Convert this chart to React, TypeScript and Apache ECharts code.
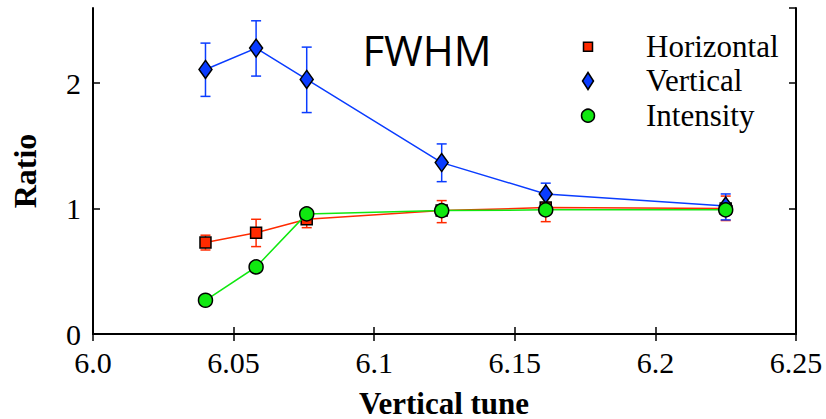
import React, { useEffect, useRef } from "react";
import * as echarts from "echarts";

const tunes = [6.04, 6.058, 6.076, 6.124, 6.161, 6.225];
const horizontal = [0.729, 0.808, 0.915, 0.984, 1.008, 1.0];
const horizontalLow = [0.67, 0.697, 0.848, 0.888, 0.896, 0.905];
const horizontalHigh = [0.788, 0.915, 0.98, 1.064, 1.12, 1.1];
const vertical = [2.11, 2.28, 2.03, 1.367, 1.117, 1.02];
const verticalLow = [1.895, 2.057, 1.766, 1.215, 1.03, 0.91];
const verticalHigh = [2.32, 2.498, 2.288, 1.516, 1.203, 1.117];
const intensity = [0.269, 0.535, 0.958, 0.984, 0.99, 0.99];
const seriesNames = ["Horizontal", "Vertical", "Intensity"];
const xTicks = { min: 6.0, max: 6.25, interval: 0.05 };
const yTicks = { min: 0, max: 2.6, interval: 1 };

const RED = "#ff2a00";
const BLUE = "#0a3cff";
const GREEN = "#10e810";
const SERIF = "Liberation Serif";

function errBars(color: string, low: number[], high: number[]) {
  return {
    type: "custom",
    z: 1,
    data: tunes.map((t, i) => [t, low[i], high[i]]),
    encode: { x: 0, y: [1, 2] },
    renderItem: (_p: any, api: any) => {
      const x = api.value(0);
      const a = api.coord([x, api.value(1)]);
      const b = api.coord([x, api.value(2)]);
      const hw = 5;
      const style = { stroke: color, lineWidth: 1.5 };
      return {
        type: "group",
        children: [
          { type: "line", shape: { x1: a[0], y1: a[1], x2: b[0], y2: b[1] }, style },
          { type: "line", shape: { x1: a[0] - hw, y1: a[1], x2: a[0] + hw, y2: a[1] }, style },
          { type: "line", shape: { x1: b[0] - hw, y1: b[1], x2: b[0] + hw, y2: b[1] }, style },
        ],
      };
    },
  };
}

export default function App() {
  const ref = useRef<HTMLDivElement>(null);
  useEffect(() => {
    if (!ref.current) return;
    const chart = echarts.init(ref.current, null, { renderer: "svg" });
    const axisLine = { show: true, lineStyle: { color: "#000", width: 2 } };
    const axisTick = { show: true, inside: true, length: 7, lineStyle: { color: "#000", width: 1.5 } };
    const legendY = [46.7, 81, 115.7];
    const markerStroke = { stroke: "#000", lineWidth: 1.5 };
    chart.setOption({
      animation: false,
      grid: { left: 93, right: 30, top: 8, bottom: 85 },
      xAxis: [
        {
          type: "value",
          ...xTicks,
          axisLine,
          axisTick,
          splitLine: { show: false },
          axisLabel: {
            color: "#000",
            fontFamily: SERIF,
            fontSize: 30,
            margin: 13,
            formatter: (v: number) => (v === 6 ? "6.0" : String(Math.round(v * 100) / 100)),
          },
        },
        {
          type: "value",
          position: "top",
          ...xTicks,
          axisLine,
          axisTick,
          splitLine: { show: false },
          axisLabel: { show: false },
        },
      ],
      yAxis: [
        {
          type: "value",
          ...yTicks,
          axisLine,
          axisTick,
          splitLine: { show: false },
          axisLabel: { color: "#000", fontFamily: SERIF, fontSize: 30, margin: 12, showMaxLabel: false },
        },
        {
          type: "value",
          position: "right",
          ...yTicks,
          axisLine,
          axisTick,
          splitLine: { show: false },
          axisLabel: { show: false },
        },
      ],
      series: [
        errBars(RED, horizontalLow, horizontalHigh),
        errBars(BLUE, verticalLow, verticalHigh),
        {
          name: seriesNames[0],
          type: "line",
          z: 2,
          data: tunes.map((t, i) => [t, horizontal[i]]),
          symbol: "rect",
          symbolSize: 11,
          lineStyle: { color: RED, width: 1.5 },
          itemStyle: { color: RED, borderColor: "#000", borderWidth: 1.5 },
        },
        {
          name: seriesNames[1],
          type: "line",
          z: 3,
          data: tunes.map((t, i) => [t, vertical[i]]),
          symbol: "diamond",
          symbolSize: [13, 18],
          lineStyle: { color: BLUE, width: 1.5 },
          itemStyle: { color: BLUE, borderColor: "#000", borderWidth: 1.5 },
        },
        {
          name: seriesNames[2],
          type: "line",
          z: 4,
          data: tunes.map((t, i) => [t, intensity[i]]),
          symbol: "circle",
          symbolSize: 14,
          lineStyle: { color: GREEN, width: 1.5 },
          itemStyle: { color: GREEN, borderColor: "#000", borderWidth: 1.5 },
        },
      ],
      graphic: [
        ...seriesNames.map((n, i) => ({
          type: "text",
          x: 646,
          y: legendY[i] - 16,
          style: { text: n, fontFamily: SERIF, fontSize: 31, fill: "#000" },
        })),
        {
          type: "rect",
          shape: { x: 583.5, y: legendY[0] - 4.5, width: 9, height: 9 },
          style: { fill: RED, ...markerStroke },
        },
        {
          type: "polygon",
          shape: {
            points: [
              [588, legendY[1] - 8.5],
              [593.5, legendY[1]],
              [588, legendY[1] + 8.5],
              [582.5, legendY[1]],
            ],
          },
          style: { fill: BLUE, ...markerStroke },
        },
        {
          type: "circle",
          shape: { cx: 588, cy: legendY[2], r: 6.5 },
          style: { fill: GREEN, ...markerStroke },
        },
        {
          type: "text",
          x: 427,
          y: 49,
          style: {
            text: "FWHM",
            fontFamily: "Open Sans",
            fontSize: 42,
            fill: "#000",
            align: "center",
            verticalAlign: "middle",
          },
        },
        {
          type: "text",
          x: 444,
          y: 403,
          style: {
            text: "Vertical tune",
            fontFamily: SERIF,
            fontWeight: "bold",
            fontSize: 31,
            fill: "#000",
            align: "center",
            verticalAlign: "middle",
          },
        },
        {
          type: "text",
          x: 25,
          y: 171,
          rotation: Math.PI / 2,
          style: {
            text: "Ratio",
            fontFamily: SERIF,
            fontWeight: "bold",
            fontSize: 32,
            fill: "#000",
            align: "center",
            verticalAlign: "middle",
          },
        },
      ],
    });
    return () => chart.dispose();
  }, []);
  return (
    <div
      ref={ref}
      style={{ position: "absolute", left: 0, top: 0, width: 826, height: 419, background: "#fff" }}
    />
  );
}
